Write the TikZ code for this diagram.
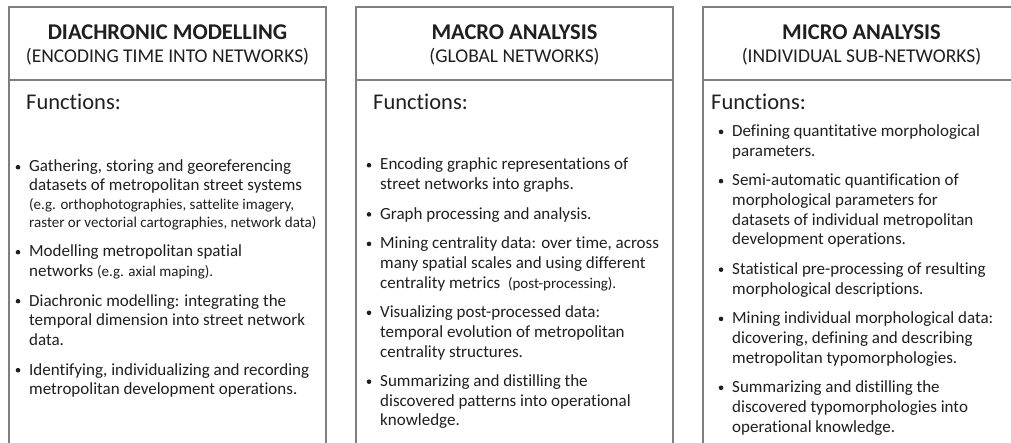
\documentclass[tikz,border=0pt]{standalone}
\usepackage{fontspec}
\setmainfont{Carlito}[Ligatures={NoCommon,TeX}]
\definecolor{framegray}{HTML}{7F7F7F}
\definecolor{ink}{HTML}{1F1F1F}
\newcommand{\smallpart}[1]{{\fontsize{15}{18}\selectfont #1}}
\tikzset{
  frame/.style={draw=framegray, line width=1.4pt},
  ttl/.style={font=\fontsize{22.5}{27}\selectfont\bfseries, text=ink, anchor=base, inner sep=0pt},
  sub/.style={font=\fontsize{19.5}{23}\selectfont, text=ink, anchor=base, inner sep=0pt},
  fn/.style={font=\fontsize{22.5}{27}\selectfont, text=ink, anchor=base west, inner sep=0pt},
  ln/.style={font=\fontsize{17}{20}\selectfont, text=ink, anchor=base west, inner sep=0pt},
  sm/.style={font=\fontsize{15}{18}\selectfont, text=ink, anchor=base west, inner sep=0pt},
  bul/.style={circle, fill=ink, inner sep=0pt, minimum size=4.6pt, yshift=4.8pt},
}
\begin{document}
\begin{tikzpicture}[x=1pt,y=-1pt]
\useasboundingbox (0,0) rectangle (1011,443);
\clip (0,0) rectangle (1011,443);
\fill[white] (0,0) rectangle (1011,443);

% three open-bottomed panels with a header rule
\foreach \L in {9,356,703}{
  \draw[frame] (\L,470) |- (\L+317,7) -- (\L+317,470);
  \draw[frame] (\L,80) -- (\L+317,80);
}

% ---------- panel 1 ----------
\node[ttl] (h1) at (167.5,40) {DIACHRONIC MODELLING};
\node[sub] (s1) at (167.5,63) {(ENCODING TIME INTO NETWORKS)};
\node[fn]  (f1) at (26,110) {Functions:};

\node[bul] (p1a) at (18,172) {};
\node[ln] (p1a1) at (29,172) {Gathering, storing and georeferencing};
\node[ln] (p1a2) at (29,191) {datasets of metropolitan street systems};
\node[sm] (p1a3) at (29,209.5) {(e.g. orthophotographies, sattelite imagery,};
\node[sm] (p1a4) at (29,227.5) {raster or vectorial cartographies, network data)};

\node[bul] (p1b) at (18,257) {};
\node[ln] (p1b1) at (29,257) {Modelling metropolitan spatial};
\node[ln] (p1b2) at (29,276.5) {networks \smallpart{(e.g. axial maping).}};

\node[bul] (p1c) at (18,306) {};
\node[ln] (p1c1) at (29,306) {Diachronic modelling: integrating the};
\node[ln] (p1c2) at (29,325.5) {temporal dimension into street network};
\node[ln] (p1c3) at (29,345) {data.};

\node[bul] (p1d) at (18,375) {};
\node[ln] (p1d1) at (29,375) {Identifying, individualizing and recording};
\node[ln] (p1d2) at (29,394.5) {metropolitan development operations.};

% ---------- panel 2 ----------
\node[ttl] (h2) at (514.5,40) {MACRO ANALYSIS};
\node[sub] (s2) at (514.5,63) {(GLOBAL NETWORKS)};
\node[fn]  (f2) at (373,110) {Functions:};

\node[bul] (p2a) at (369,170) {};
\node[ln] (p2a1) at (380,170) {Encoding graphic representations of};
\node[ln] (p2a2) at (380,189.7) {street networks into graphs.};

\node[bul] (p2b) at (369,219.2) {};
\node[ln] (p2b1) at (380,219.2) {Graph processing and analysis.};

\node[bul] (p2c) at (369,248.7) {};
\node[ln] (p2c1) at (380,248.7) {Mining centrality data: over time, across};
\node[ln] (p2c2) at (380,268.4) {many spatial scales and using different};
\node[ln] (p2c3) at (380,288.1) {centrality metrics~~\smallpart{(post-processing).}};

\node[bul] (p2d) at (369,317.6) {};
\node[ln] (p2d1) at (380,317.6) {Visualizing post-processed data:};
\node[ln] (p2d2) at (380,337.3) {temporal evolution of metropolitan};
\node[ln] (p2d3) at (380,357) {centrality structures.};

\node[bul] (p2e) at (369,386.5) {};
\node[ln] (p2e1) at (380,386.5) {Summarizing and distilling the};
\node[ln] (p2e2) at (380,406.2) {discovered patterns into operational};
\node[ln] (p2e3) at (380,425.9) {knowledge.};

% ---------- panel 3 ----------
\node[ttl] (h3) at (861.5,40) {MICRO ANALYSIS};
\node[sub] (s3) at (861.5,63) {(INDIVIDUAL SUB-NETWORKS)};
\node[fn]  (f3) at (711,110) {Functions:};

\node[bul] (p3a) at (721,136.7) {};
\node[ln] (p3a1) at (732,136.7) {Defining quantitative morphological};
\node[ln] (p3a2) at (732,156.4) {parameters.};

\node[bul] (p3b) at (721,185.9) {};
\node[ln] (p3b1) at (732,185.9) {Semi-automatic quantification of};
\node[ln] (p3b2) at (732,205.6) {morphological parameters for};
\node[ln] (p3b3) at (732,225.3) {datasets of individual metropolitan};
\node[ln] (p3b4) at (732,245) {development operations.};

\node[bul] (p3c) at (721,274.5) {};
\node[ln] (p3c1) at (732,274.5) {Statistical pre-processing of resulting};
\node[ln] (p3c2) at (732,294.2) {morphological descriptions.};

\node[bul] (p3d) at (721,323.7) {};
\node[ln] (p3d1) at (732,323.7) {Mining individual morphological data:};
\node[ln] (p3d2) at (732,343.4) {dicovering, defining and describing};
\node[ln] (p3d3) at (732,363.1) {metropolitan typomorphologies.};

\node[bul] (p3e) at (721,392.6) {};
\node[ln] (p3e1) at (732,392.6) {Summarizing and distilling the};
\node[ln] (p3e2) at (732,412.3) {discovered typomorphologies into};
\node[ln] (p3e3) at (732,432) {operational knowledge.};
\end{tikzpicture}
\end{document}
